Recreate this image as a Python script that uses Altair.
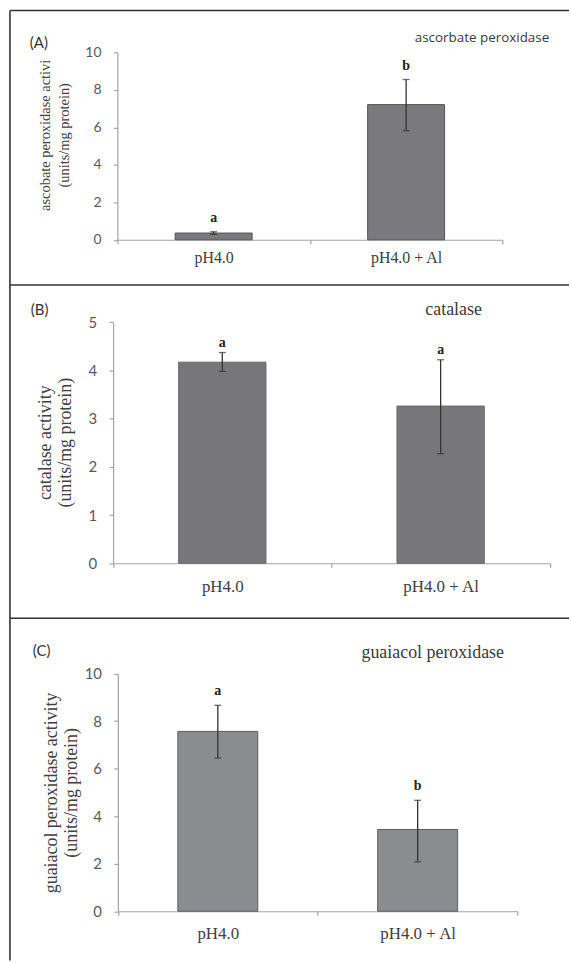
import altair as alt
import pandas as pd

groups = ["pH4.0", "pH4.0 + Al"]

apx_mean = [0.36, 7.22]
apx_lo = [0.29, 5.82]
apx_hi = [0.43, 8.56]
apx_letters = ["a", "b"]

cat_mean = [4.17, 3.26]
cat_lo = [3.98, 2.27]
cat_hi = [4.37, 4.22]
cat_letters = ["a", "a"]

gpx_mean = [7.57, 3.44]
gpx_lo = [6.45, 2.08]
gpx_hi = [8.67, 4.67]
gpx_letters = ["a", "b"]

panel_tags = ["(A)", "(B)", "(C)"]
panel_names = ["ascorbate peroxidase", "catalase", "guaiacol peroxidase"]
y_titles = [
    ["ascobate peroxidase activi", "(units/mg protein)"],
    ["catalase activity", "(units/mg protein)"],
    ["guaiacol peroxidase activity", "(units/mg protein)"],
]
y_ticks = [[0, 2, 4, 6, 8, 10], [0, 1, 2, 3, 4, 5], [0, 2, 4, 6, 8, 10]]
y_max = [10, 5, 10]

SERIF = "Liberation Serif"
SANS = "Lato"
AX = "#a3a3a3"
TXT = "#404040"
ERR = "#333333"
BORDER = "#333333"

layouts = [
    dict(W=562, H=276, xr=[108, 495], yr=[230.5, 42.3], ylfs=14, ytfs=14.5, ytlh=19,
         tx=-72, ty=125, xlfs=16, xlp=6, ldy=-14, tagx=20, tagy=33,
         namex=474.5, namey=28, namefont="Open Sans", namefs=13.5,
         fill="#7a7a7e", stroke="#555555"),
    dict(W=562, H=335, xr=[103.7, 542.7], yr=[279.7, 37.3], ylfs=15, ytfs=18, ytlh=20,
         tx=-67.5, ty=158, xlfs=17, xlp=11, ldy=-10, tagx=21, tagy=24.7,
         namex=446, namey=24.7, namefont=SERIF, namefs=18,
         fill="#77777b", stroke="#6a6a6a"),
    dict(W=562, H=344, xr=[108.5, 510.3], yr=[294.5, 55.7], ylfs=15, ytfs=18, ytlh=20,
         tx=-66.5, ty=175, xlfs=17, xlp=10, ldy=-14, tagx=23, tagy=33,
         namex=425, namey=34.7, namefont=SERIF, namefs=18,
         fill="#8b8c90", stroke="#5c5c5c"),
]


def panel(mean, lo, hi, letters, tag, name, ytitle, yvals, ymax, L):
    df = pd.DataFrame({"g": groups, "m": mean, "lo": lo, "hi": hi, "t": letters})
    base = alt.Chart(df)
    xenc = alt.X(
        "g:N",
        sort=groups,
        scale=alt.Scale(domain=groups, range=L["xr"], paddingInner=0, paddingOuter=0),
        axis=alt.Axis(
            title=None, orient="bottom", offset=-(L["H"] - L["yr"][0]),
            tickBand="extent", tickSize=4, tickColor=AX, tickWidth=1.2,
            domainColor=AX, domainWidth=1.2, labelAngle=0,
            labelFont=SERIF, labelFontSize=L["xlfs"], labelColor=TXT,
            labelPadding=L["xlp"], grid=False,
        ),
    )
    yenc = alt.Y(
        "m:Q",
        scale=alt.Scale(domain=[0, ymax], range=L["yr"], nice=False, zero=True),
        axis=alt.Axis(
            values=yvals, format="d", title=ytitle, orient="left", offset=-L["xr"][0],
            tickSize=4, tickColor=AX, tickWidth=1.2, domainColor=AX, domainWidth=1.2,
            labelFont=SANS, labelFontSize=L["ylfs"], labelColor="#595959",
            labelPadding=12.5, grid=False,
            titleFont=SERIF, titleFontSize=L["ytfs"], titleFontWeight="normal",
            titleColor=TXT, titleAngle=270, titleX=L["tx"], titleY=L["ty"],
            titleAlign="center", titleBaseline="middle", titleLineHeight=L["ytlh"],
        ),
    )
    bars = base.mark_bar(
        width=alt.RelativeBandSize(0.4), fill=L["fill"], stroke=L["stroke"], strokeWidth=1
    ).encode(x=xenc, y=yenc)
    err = base.mark_rule(color=ERR, strokeWidth=1.3).encode(
        x=alt.X("g:N", sort=groups), y="lo:Q", y2="hi:Q"
    )
    cap_hi = base.mark_tick(color=ERR, size=7, thickness=1.3).encode(
        x=alt.X("g:N", sort=groups), y="hi:Q"
    )
    cap_lo = base.mark_tick(color=ERR, size=7, thickness=1.3).encode(
        x=alt.X("g:N", sort=groups), y="lo:Q"
    )
    lett = base.mark_text(
        font=SERIF, fontWeight="bold", fontSize=14, dy=L["ldy"], color="#222222",
        baseline="middle",
    ).encode(x=alt.X("g:N", sort=groups), y="hi:Q", text="t:N")

    tdf = pd.DataFrame({"tag": [tag], "name": [name]})
    tagc = alt.Chart(tdf).mark_text(
        font=SANS, fontSize=15, align="left", baseline="middle", color="#333333"
    ).encode(x=alt.value(L["tagx"]), y=alt.value(L["tagy"]), text="tag:N")
    namec = alt.Chart(tdf).mark_text(
        font=L["namefont"], fontSize=L["namefs"], align="center", baseline="middle",
        color="#3a3a3a",
    ).encode(x=alt.value(L["namex"]), y=alt.value(L["namey"]), text="name:N")
    btop = alt.Chart(tdf).mark_rule(color=BORDER, strokeWidth=1.6).encode(
        x=alt.value(0), x2=alt.value(L["W"]), y=alt.value(0)
    )
    bleft = alt.Chart(tdf).mark_rule(color=BORDER, strokeWidth=1.6).encode(
        x=alt.value(0), y=alt.value(0), y2=alt.value(L["H"])
    )
    return alt.layer(bars, err, cap_hi, cap_lo, lett, tagc, namec, btop, bleft).properties(
        width=L["W"], height=L["H"]
    )


pA = panel(apx_mean, apx_lo, apx_hi, apx_letters, panel_tags[0], panel_names[0],
           y_titles[0], y_ticks[0], y_max[0], layouts[0])
pB = panel(cat_mean, cat_lo, cat_hi, cat_letters, panel_tags[1], panel_names[1],
           y_titles[1], y_ticks[1], y_max[1], layouts[1])
pC = panel(gpx_mean, gpx_lo, gpx_hi, gpx_letters, panel_tags[2], panel_names[2],
           y_titles[2], y_ticks[2], y_max[2], layouts[2])

chart = (
    alt.vconcat(pA, pB, pC, spacing=0, bounds="flush")
    .properties(padding={"left": 8, "top": 6, "right": 0, "bottom": 0}, background="white")
    .configure_view(stroke="transparent")
)

chart.save("out.html", embed_options={"renderer": "svg", "actions": False})
